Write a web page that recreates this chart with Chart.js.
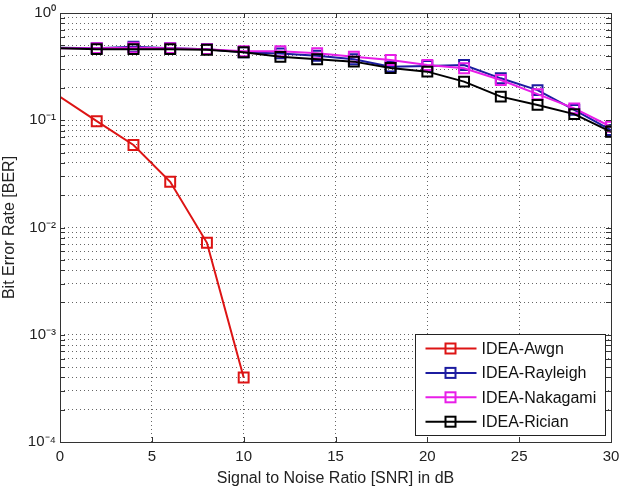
<!DOCTYPE html>
<html>
<head>
<meta charset="utf-8">
<script src="https://cdn.jsdelivr.net/npm/chart.js@4/dist/chart.umd.min.js"></script>
<style>
  html, body { margin: 0; padding: 0; background: #fff; }
  canvas { display: block; }
</style>
</head>
<body>
<canvas id="berChart" width="620" height="488"></canvas>
<script>
// SNR points (dB)
const snr = [0, 2, 4, 6, 8, 10, 12, 14, 16, 18, 20, 22, 24, 26, 28, 30];

// BER values
const awgn     = [0.165, 0.098, 0.0588, 0.0267, 0.0072, 0.0004];
const rayleigh = [0.475, 0.47, 0.485, 0.47, 0.46, 0.43, 0.42, 0.40, 0.37, 0.316, 0.32, 0.327, 0.246, 0.191, 0.125, 0.081];
const nakagami = [0.47, 0.47, 0.475, 0.47, 0.46, 0.44, 0.44, 0.421, 0.391, 0.365, 0.327, 0.305, 0.237, 0.175, 0.129, 0.087];
const rician   = [0.47, 0.46, 0.46, 0.46, 0.455, 0.43, 0.39, 0.37, 0.352, 0.307, 0.284, 0.229, 0.166, 0.139, 0.114, 0.078];

const seriesNames  = ['IDEA-Awgn', 'IDEA-Rayleigh', 'IDEA-Nakagami', 'IDEA-Rician'];
const seriesColors = ['#dd1414', '#1c1ca0', '#e81ee8', '#000000'];

const xTicks = [0, 5, 10, 15, 20, 25, 30];
const yDecades = [-4, -3, -2, -1];
const yMantissas = [1, 2, 3, 4, 5, 6, 7, 8, 9];

const FONT = "'Liberation Sans', Arial, sans-serif";
const sup = { '-': '\u207B', '0': '\u2070', '1': '\u00B9', '2': '\u00B2', '3': '\u00B3', '4': '\u2074' };

// log grid: 1..9 in every decade, plus the top 10^0
const yTicks = [];
yDecades.forEach(e => yMantissas.forEach(m => yTicks.push({ value: m * Math.pow(10, e), major: m === 1 })));
yTicks.push({ value: 1, major: true });

function toPoints(values) {
    return values.map((v, i) => ({ x: snr[i], y: v }));
}

function makeDataset(i, values, order) {
    return {
        label: seriesNames[i],
        data: toPoints(values),
        borderColor: seriesColors[i],
        borderWidth: 2,
        pointStyle: 'rect',
        pointRadius: ctx => ctx.dataIndex === 0 ? 0 : 7,
        pointBorderWidth: 2,
        pointBorderColor: seriesColors[i],
        pointBackgroundColor: 'rgba(0,0,0,0)',
        tension: 0,
        order: order
    };
}

// box, inward tick marks and legend in the MATLAB style
const matlabFrame = {
    id: 'matlabFrame',
    afterDraw(chart) {
        const ctx = chart.ctx;
        const a = chart.chartArea;
        const xs = chart.scales.x, ys = chart.scales.y;
        ctx.save();
        ctx.strokeStyle = '#333';
        ctx.lineWidth = 1;
        ctx.setLineDash([]);
        ctx.beginPath();
        xTicks.forEach(v => {
            const px = Math.round(xs.getPixelForValue(v)) + 0.5;
            ctx.moveTo(px, a.bottom); ctx.lineTo(px, a.bottom - 5);
            ctx.moveTo(px, a.top); ctx.lineTo(px, a.top + 5);
        });
        ys.ticks.forEach(t => {
            const py = Math.round(ys.getPixelForValue(t.value)) + 0.5;
            ctx.moveTo(a.left, py); ctx.lineTo(a.left + 5, py);
            ctx.moveTo(a.right, py); ctx.lineTo(a.right - 5, py);
        });
        ctx.stroke();
        ctx.strokeRect(Math.round(a.left) + 0.5, Math.round(a.top) + 0.5,
                       Math.round(a.right - a.left), Math.round(a.bottom - a.top));

        // legend
        const bw = 190, bh = 101;
        const bx = Math.round(a.right - 6 - bw) + 0.5;
        const by = Math.round(a.bottom - 7 - bh) + 0.5;
        ctx.fillStyle = '#fff';
        ctx.fillRect(bx, by, bw, bh);
        ctx.strokeStyle = '#222';
        ctx.strokeRect(bx, by, bw, bh);
        ctx.font = '16px ' + FONT;
        ctx.textBaseline = 'middle';
        ctx.textAlign = 'left';
        seriesNames.forEach((name, i) => {
            const y = by + 14 + i * 24.4;
            ctx.strokeStyle = seriesColors[i];
            ctx.lineWidth = 2;
            ctx.beginPath();
            ctx.moveTo(bx + 10, y); ctx.lineTo(bx + 61, y);
            ctx.stroke();
            ctx.strokeRect(bx + 30, y - 5, 10, 10);
            ctx.fillStyle = '#111';
            ctx.fillText(name, bx + 66, y + 1);
        });
        ctx.restore();
    }
};

new Chart(document.getElementById('berChart'), {
    type: 'line',
    data: {
        datasets: [
            makeDataset(0, awgn, 4),
            makeDataset(1, rayleigh, 3),
            makeDataset(2, nakagami, 2),
            makeDataset(3, rician, 1)
        ]
    },
    options: {
        responsive: false,
        animation: false,
        devicePixelRatio: 1,
        layout: { padding: { top: 13, right: 2, left: 0, bottom: 0 } },
        plugins: {
            legend: { display: false },
            tooltip: { enabled: false }
        },
        scales: {
            x: {
                type: 'linear',
                min: 0,
                max: 30,
                afterFit: s => { s.height = 46; s.paddingRight = 8; },
                afterBuildTicks: s => { s.ticks = xTicks.map(v => ({ value: v })); },
                ticks: {
                    font: { family: FONT, size: 15 },
                    color: '#222',
                    padding: 6,
                    maxRotation: 0
                },
                grid: { color: 'rgba(0,0,0,0.6)', lineWidth: 1, drawTicks: false },
                border: { display: false, dash: [1, 3] },
                title: {
                    display: true,
                    text: 'Signal to Noise Ratio [SNR] in dB',
                    font: { family: FONT, size: 16 },
                    color: '#222',
                    padding: { top: 4, bottom: 0 }
                }
            },
            y: {
                type: 'logarithmic',
                min: 1e-4,
                max: 1,
                afterFit: s => { s.width = 60; },
                afterBuildTicks: s => { s.ticks = yTicks.map(t => ({ value: t.value, major: t.major })); },
                ticks: {
                    autoSkip: false,
                    font: { family: FONT, size: 15 },
                    color: '#222',
                    padding: 4,
                    callback: v => {
                        const e = Math.log10(v);
                        if (Math.abs(e - Math.round(e)) > 1e-6) return '';
                        return '10' + String(Math.round(e)).split('').map(c => sup[c]).join('');
                    }
                },
                grid: { color: 'rgba(0,0,0,0.6)', lineWidth: 1, drawTicks: false },
                border: { display: false, dash: [1, 3] },
                title: {
                    display: true,
                    text: 'Bit Error Rate [BER]',
                    font: { family: FONT, size: 16 },
                    color: '#222',
                    padding: { top: 0, bottom: 0 }
                }
            }
        }
    },
    plugins: [matlabFrame]
});
</script>
</body>
</html>
